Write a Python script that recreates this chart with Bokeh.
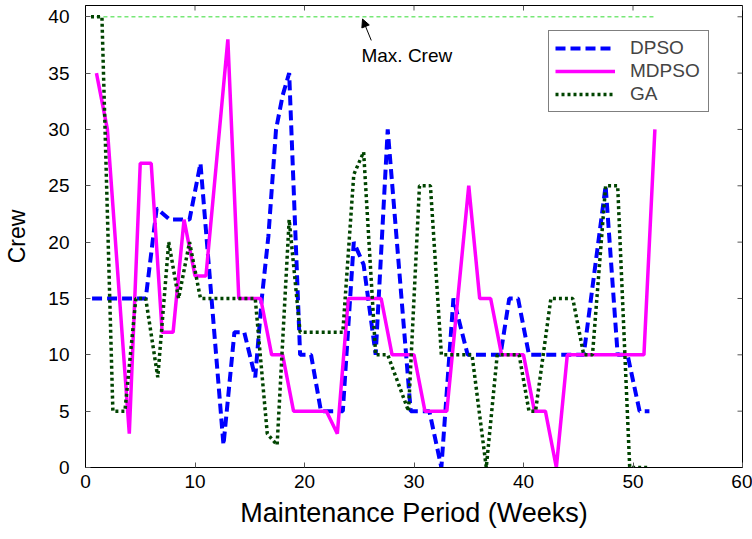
from bokeh.plotting import figure
from bokeh.models import (Range1d, FixedTicker, Legend, LegendItem,
                          Arrow, NormalHead, Label)
from bokeh.embed import file_html
from bokeh.resources import INLINE

# ---------------- data ----------------
DPSO_X = [0.6, 5.5, 6.5, 7.7, 9.5, 10.5, 12.6, 13.6, 14.5, 15.5, 16.1, 16.7, 17.4,
          18.0, 18.6, 19.6, 20.6, 21.5, 23.5, 24.5, 25.4, 26.5, 27.6, 29.7, 31.4,
          32.5, 33.6, 34.9, 37.9, 38.7, 39.5, 40.5, 45.5, 47.5, 48.6, 49.5, 50.6, 51.5]
DPSO_Y = [15, 15, 23, 22, 22, 27, 2, 12, 12, 8, 15, 20.5, 30,
          33, 35, 10, 10, 5, 5, 20, 18, 10, 30, 5, 5,
          0, 15, 10, 10, 15, 15, 10, 10, 25, 10, 10, 5, 5]

MDPSO_X = [1, 2, 4, 5, 6, 7, 8, 9, 10, 11, 13, 14, 16, 17, 18, 19, 22, 23, 24, 27,
           28, 30, 31, 33, 35, 36, 37, 38, 40, 41, 42, 43, 44, 51, 52]
MDPSO_Y = [35, 30, 3, 27, 27, 12, 12, 22, 17, 17, 38, 15, 15, 10, 10, 5, 5, 3, 15, 15,
           10, 10, 5, 5, 25, 15, 15, 10, 10, 5, 5, 0, 10, 10, 30]

GA_X = [0.5, 1.5, 2.5, 3.6, 4.6, 5.5, 6.6, 7.6, 8.5, 9.5, 10.5, 15.5, 16.6, 17.5,
        18.6, 19.6, 23.5, 24.5, 25.4, 26.5, 27.6, 29.5, 30.5, 31.5, 32.5, 35.3,
        36.6, 37.6, 39.6, 40.5, 41.1, 42.5, 44.5, 45.5, 46.3, 47.5, 48.6, 49.7, 51.3]
GA_Y = [40, 40, 5, 5, 15, 15, 8, 20, 15, 20, 15, 15, 3, 2,
        22, 12, 12, 26, 28, 10, 10, 5, 25, 25, 10, 10,
        0, 10, 10, 5, 5, 15, 15, 10, 10, 25, 25, 0, 0]

MAX_CREW = 40
MAX_WEEKS = [1, 52]

X_TICKS = [0, 10, 20, 30, 40, 50, 60]
Y_TICKS = [0, 5, 10, 15, 20, 25, 30, 35, 40]
X_MIN, X_MAX = 0, 60
Y_MIN, Y_MAX = 0, 41

FONT = "Liberation Sans"
W, H = 752, 539
LEFT, RIGHT, TOP, BOTTOM = 85, 10, 5, 72

p = figure(width=W, height=H,
           x_range=Range1d(X_MIN, X_MAX), y_range=Range1d(Y_MIN, Y_MAX),
           output_backend="svg", toolbar_location=None,
           min_border_left=LEFT, min_border_top=TOP, min_border_right=RIGHT,
           min_border_bottom=BOTTOM)
p.background_fill_color = "white"
p.border_fill_color = "white"
p.outline_line_color = "black"
p.outline_line_width = 1
p.xgrid.visible = False
p.ygrid.visible = False

TICK_COLOR = "#555555"
TICK_LEN = 5

def style_axis(ax, ticks):
    ax.ticker = FixedTicker(ticks=ticks)
    ax.major_tick_in = TICK_LEN
    ax.major_tick_out = 0
    ax.minor_tick_line_color = None
    ax.major_tick_line_color = TICK_COLOR
    ax.axis_line_color = "black"
    ax.major_label_text_font = FONT
    ax.major_label_text_color = "black"
    ax.major_label_text_font_size = "19px"
    ax.axis_label_text_font = FONT
    ax.axis_label_text_font_style = "normal"
    ax.axis_label_text_color = "black"

xa = p.xaxis[0]
ya = p.yaxis[0]
style_axis(xa, X_TICKS)
style_axis(ya, Y_TICKS)
xa.major_label_standoff = 7
ya.major_label_standoff = 16
xa.axis_label = "Maintenance Period (Weeks)"
ya.axis_label = "Crew"
xa.axis_label_text_font_size = "27px"
ya.axis_label_text_font_size = "23px"
xa.axis_label_standoff = 7
ya.axis_label_standoff = 15

# inward ticks on the top and right edges of the frame
frame_w = W - LEFT - RIGHT
frame_h = H - TOP - BOTTOM
dx = TICK_LEN * (X_MAX - X_MIN) / frame_w
dy = TICK_LEN * (Y_MAX - Y_MIN) / frame_h
p.segment(x0=X_TICKS, y0=[Y_MAX] * len(X_TICKS),
          x1=X_TICKS, y1=[Y_MAX - dy] * len(X_TICKS),
          line_color=TICK_COLOR, line_width=1)
p.segment(x0=[X_MAX] * len(Y_TICKS), y0=Y_TICKS,
          x1=[X_MAX - dx] * len(Y_TICKS), y1=Y_TICKS,
          line_color=TICK_COLOR, line_width=1)

# Max crew line
p.line(x=MAX_WEEKS, y=[MAX_CREW, MAX_CREW], line_color="#77e877", line_width=1.6,
       line_dash="4 3")

r_dpso = p.line(x=DPSO_X, y=DPSO_Y, line_color="#0000ff", line_width=4,
                line_dash="10 5")
r_mdpso = p.line(x=MDPSO_X, y=MDPSO_Y, line_color="#ff00ff", line_width=3.5)
r_ga = p.line(x=GA_X, y=GA_Y, line_color="#004400", line_width=3.5,
              line_dash="3 3")

legend = Legend(items=[LegendItem(label="DPSO", renderers=[r_dpso]),
                       LegendItem(label="MDPSO", renderers=[r_mdpso]),
                       LegendItem(label="GA", renderers=[r_ga])],
                location=(463, 355))
legend.label_text_font = FONT
legend.label_text_font_size = "19px"
legend.glyph_width = 60
legend.glyph_height = 20
legend.label_height = 20
legend.label_standoff = 15
legend.label_width = 72
legend.spacing = 1
legend.padding = 6
legend.margin = 0
legend.border_line_color = "black"
legend.border_line_width = 1
legend.background_fill_alpha = 1
p.add_layout(legend)

# annotation
p.add_layout(Arrow(end=NormalHead(size=8, fill_color="black", line_color="black"),
                   x_start=26.1, y_start=37.9, x_end=25.3, y_end=39.8,
                   line_color="black", line_width=1))
p.add_layout(Label(x=25.2, y=36.6, text="Max. Crew", text_font=FONT,
                   text_font_size="19px", text_baseline="middle",
                   text_color="black"))

open("out.html", "w").write(file_html(p, INLINE))
